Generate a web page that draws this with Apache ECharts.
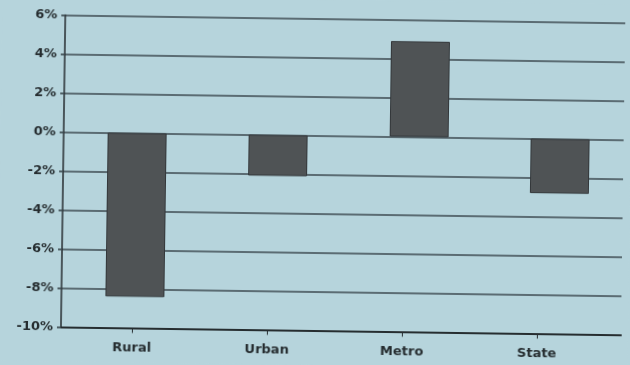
<!DOCTYPE html>
<html>
<head>
<meta charset="utf-8">
<script src="https://cdn.jsdelivr.net/npm/echarts@6/dist/echarts.min.js"></script>
<style>
  html, body { margin: 0; padding: 0; background: #b6d4dc; overflow: hidden; }
  #chart { width: 630px; height: 365px; transform: rotate(0.8deg); transform-origin: 50% 50%; }
</style>
</head>
<body>
<div id="chart"></div>
<script>
// Percent change by area
const categories = ['Rural', 'Urban', 'Metro', 'State'];
const changeValues = [-8.4, -2.1, 4.9, -2.8];
const yMin = -10;
const yMax = 6;
const yStep = 2;

const ink = '#262d30';
const ruleColor = '#3c4a50';
const labelFont = { fontFamily: 'DejaVu Sans', fontWeight: 'bold', fontSize: 13, color: ink };

const plotTop = 18.5, plotBottom = 34.5;

const chart = echarts.init(document.getElementById('chart'), null, { renderer: 'canvas' });
chart.setOption({
  backgroundColor: '#b6d4dc',
  animation: false,
  grid: [
    // frame: value axis, rules and baseline
    { left: 63, right: 7, top: plotTop, bottom: plotBottom },
    // bars
    { left: 66, right: -3, top: plotTop, bottom: plotBottom },
    // category names and ticks
    { left: 66.5, right: 23.5, top: plotTop, bottom: plotBottom }
  ],
  xAxis: [
    {
      gridIndex: 0, type: 'category', data: categories,
      axisLine: { onZero: false, lineStyle: { color: ink, width: 2 } },
      axisTick: { show: false }, axisLabel: { show: false }, splitLine: { show: false }
    },
    {
      gridIndex: 1, type: 'category', data: categories, show: false,
      axisLine: { onZero: false }
    },
    {
      gridIndex: 2, type: 'category', data: categories,
      axisLine: { show: false, onZero: false },
      axisTick: { show: true, alignWithLabel: true, length: 5, lineStyle: { color: ink, width: 1 } },
      axisLabel: Object.assign({ margin: 14 }, labelFont),
      splitLine: { show: false }
    }
  ],
  yAxis: [
    {
      gridIndex: 0, type: 'value', min: yMin, max: yMax, interval: yStep,
      axisLine: { show: true, lineStyle: { color: ink, width: 1.5 } },
      axisTick: { show: true, length: 4, lineStyle: { color: ruleColor, width: 1.7 } },
      axisLabel: Object.assign({ margin: 8, formatter: v => v + '%' }, labelFont),
      splitLine: { show: true, lineStyle: { color: ruleColor, width: 1.7 } }
    },
    { gridIndex: 1, type: 'value', min: yMin, max: yMax, interval: yStep, show: false },
    { gridIndex: 2, type: 'value', min: yMin, max: yMax, interval: yStep, show: false }
  ],
  series: [
    {
      type: 'bar',
      xAxisIndex: 1, yAxisIndex: 1,
      data: changeValues,
      barWidth: 59,
      itemStyle: { color: '#4f5355', borderColor: '#33373a', borderWidth: 1 }
    }
  ]
});
</script>
</body>
</html>
